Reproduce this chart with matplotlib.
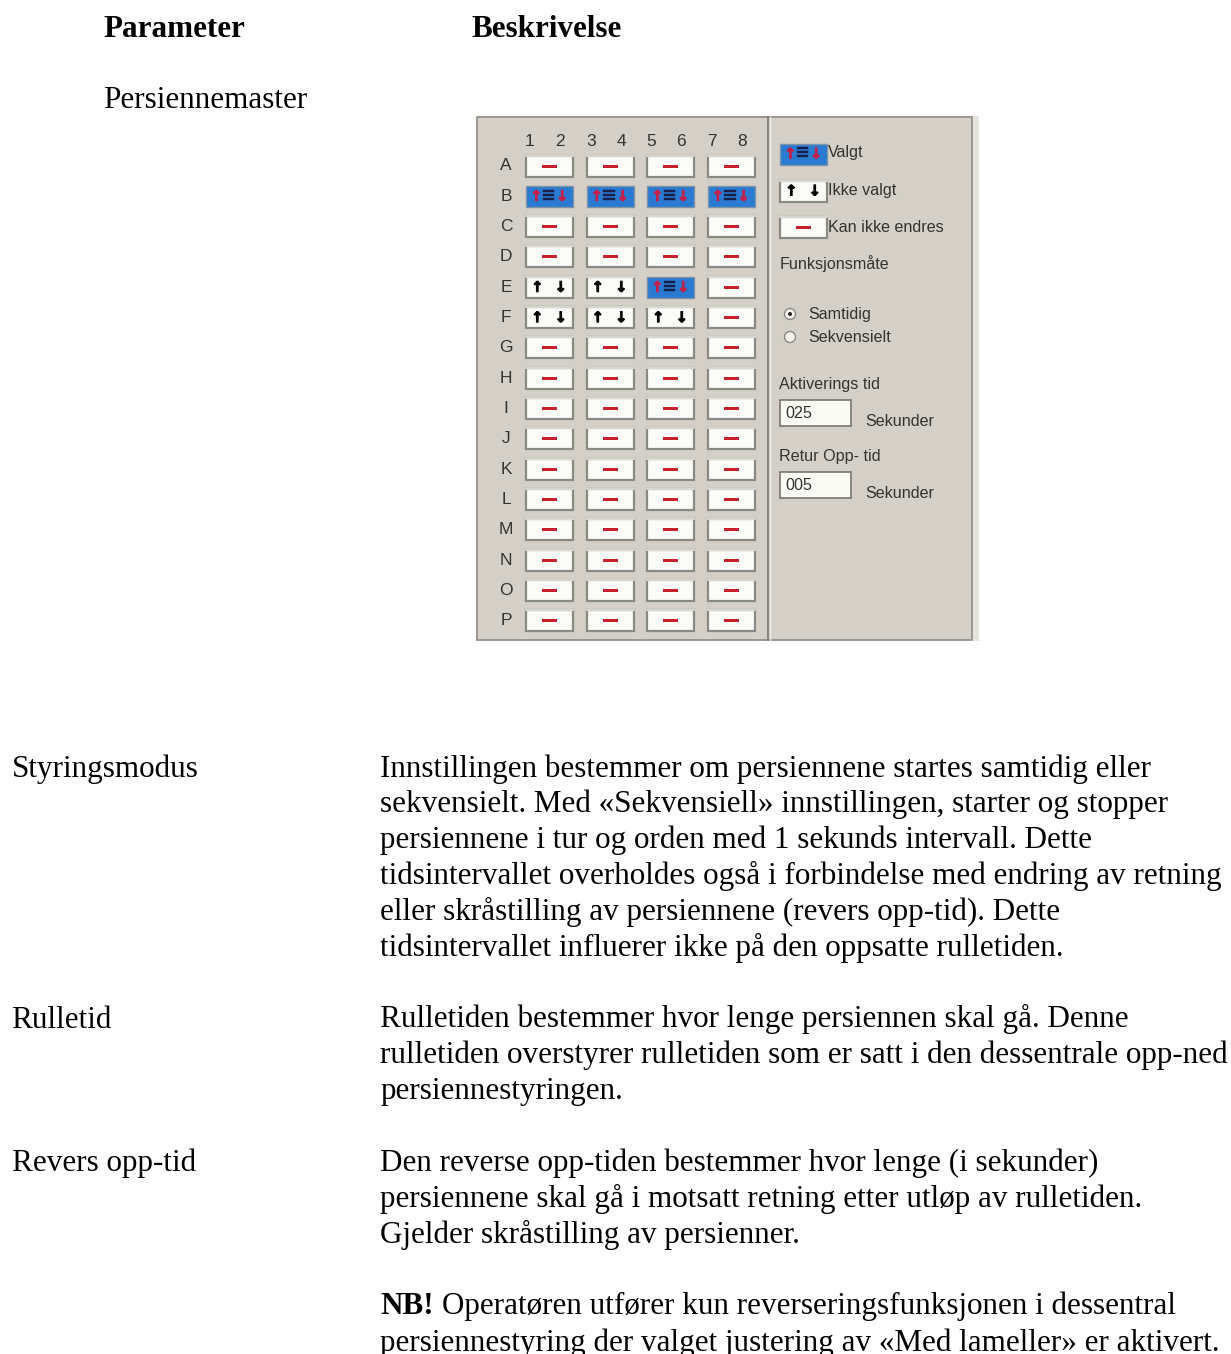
import matplotlib
matplotlib.use('Agg')
import matplotlib.pyplot as plt
from matplotlib.patches import Rectangle, Circle
import matplotlib.patheffects as pe

W, H = 1231, 1354
row_labels = list("ABCDEFGHIJKLMNOP")
col_labels = ["1", "2", "3", "4", "5", "6", "7", "8"]
# state per row, per column pair: s = selected, n = not selected, x = locked
states = ["xxxx", "ssss", "xxxx", "xxxx", "nnsx", "nnnx", "xxxx", "xxxx",
          "xxxx", "xxxx", "xxxx", "xxxx", "xxxx", "xxxx", "xxxx", "xxxx"]
legend_labels = ["Valgt", "Ikke valgt", "Kan ikke endres"]
legend_states = ["s", "n", "x"]
mode_title = "Funksjonsmåte"
modes = ["Samtidig", "Sekvensielt"]
fields = [("Aktiverings tid", "025"), ("Retur Opp- tid", "005")]
unit = "Sekunder"

SERIF = "Liberation Serif"
SANS = "Liberation Sans"
FS = 22.4
UI = 11.6
INK = "#000000"
UI_INK = "#33332f"

fig = plt.figure(figsize=(W / 100, H / 100), dpi=100, facecolor="white")
ax = fig.add_axes([0, 0, 1, 1])
ax.set_xlim(0, W)
ax.set_ylim(H, 0)
ax.axis("off")


def body(x, y, s, bold=False):
    ax.text(x, y, s, family=SERIF, fontsize=FS, color=INK, va="baseline",
            weight="bold" if bold else "normal")


def ui(x, y, s, size=UI, color=UI_INK, ha="left"):
    ax.text(x, y, s, family=SANS, fontsize=size, color=color, va="center", ha=ha)


def glyph(x, y, s, size, color, stroke=0.7):
    t = ax.text(x, y, s, family="DejaVu Sans", weight="bold", fontsize=size,
                color=color, ha="center", va="center")
    t.set_path_effects([pe.withStroke(linewidth=stroke, foreground=color)])


def button(x0, yc, state, w=47, h=21):
    y0 = yc - h / 2
    if state == "s":
        ax.add_patch(Rectangle((x0, y0), w, h, fc="#2a7ad2", ec="#7f93a6", lw=1.0))
        glyph(x0 + w * .22, yc, "↑", 10.5, "#c2204a")
        glyph(x0 + w * .48, yc - 1, "≡", 13, "#16204a", 0.3)
        glyph(x0 + w * .77, yc, "↓", 10.5, "#c2204a")
        return
    ax.add_patch(Rectangle((x0, y0), w, h, fc="#fbfbf8", ec="#8a8a84", lw=1.6))
    ax.plot([x0, x0 + w], [y0, y0], color="#e8e6e0", lw=1.2)
    if state == "n":
        glyph(x0 + w * .24, yc, "↑", 10.5, "black")
        glyph(x0 + w * .74, yc, "↓", 10.5, "black")
    else:
        ax.add_patch(Rectangle((x0 + w / 2 - 7.5, yc - 1.5), 15, 3, fc="#c8202c", ec="none"))


# document text
body(103.5, 37, "Parameter", True)
body(472, 37, "Beskrivelse", True)
body(103.5, 108, "Persiennemaster")

rows = [
    (11.5, "Styringsmodus", 776.5, [
        "Innstillingen bestemmer om persiennene startes samtidig eller",
        "sekvensielt. Med «Sekvensiell» innstillingen, starter og stopper",
        "persiennene i tur og orden med 1 sekunds intervall. Dette",
        "tidsintervallet overholdes også i forbindelse med endring av retning",
        "eller skråstilling av persiennene (revers opp-tid). Dette",
        "tidsintervallet influerer ikke på den oppsatte rulletiden.",
    ]),
    (11.5, "Rulletid", 1027.5, [
        "Rulletiden bestemmer hvor lenge persiennen skal gå. Denne",
        "rulletiden overstyrer rulletiden som er satt i den dessentrale opp-ned",
        "persiennestyringen.",
    ]),
    (11.5, "Revers opp-tid", 1171, [
        "Den reverse opp-tiden bestemmer hvor lenge (i sekunder)",
        "persiennene skal gå i motsatt retning etter utløp av rulletiden.",
        "Gjelder skråstilling av persienner.",
    ]),
]
LH = 35.9
for x, label, y, lines in rows:
    body(x, y, label)
    for i, s in enumerate(lines):
        body(380.5, y + i * LH, s)
body(380.5, 1314, "NB!", True)
body(442, 1314, "Operatøren utfører kun reverseringsfunksjonen i dessentral")
body(380.5, 1351, "persiennestyring der valget justering av «Med lameller» er aktivert.")

# software panel
ax.add_patch(Rectangle((476, 116), 503, 525, fc="#e6e4dc", ec="none"))
ax.add_patch(Rectangle((477, 117), 495, 523, fc="#d4d0c8", ec="#8e8c84", lw=1.2))
ax.plot([768, 768], [117, 640], color="#77756e", lw=1.2)
ax.plot([770, 770], [117, 640], color="#eceae4", lw=1.0)

col_x = [526, 586.5, 647, 707.5]
col_text = [529, 560, 591, 621, 651, 681, 712, 742]
for cx, s in zip(col_text, col_labels):
    ui(cx, 141.5, s, 12.5, ha="center")
for i, (r, st) in enumerate(zip(row_labels, states)):
    yc = 166 + i * 30.33
    ui(506, yc, r, 12.5, ha="center")
    for x0, c in zip(col_x, st):
        button(x0, yc, c)

for y, ty, lab, st in zip([154, 191, 227.5], [153, 191, 227], legend_labels, legend_states):
    button(780, y, st, w=47, h=21)
    ui(828, ty, lab)
ui(780, 264, mode_title)

for y, lab, on in zip([314, 337], modes, [True, False]):
    ax.add_patch(Circle((790, y), 5.5, fc="#f4f3ee", ec="#8a8880", lw=1))
    if on:
        ax.add_patch(Circle((790, y), 2, fc="#222222", ec="none"))
    ui(808, y, lab)

for (lab, val), y in zip(fields, [385, 457]):
    ui(779, y, lab)
    ax.add_patch(Rectangle((780, y + 15), 71, 26, fc="#fbfbf6", ec="#77756e", lw=1.2))
    ui(785, y + 28.5, val)
    ui(865, y + 36.5, unit)

fig.savefig("out.png", dpi=100, facecolor="white")
